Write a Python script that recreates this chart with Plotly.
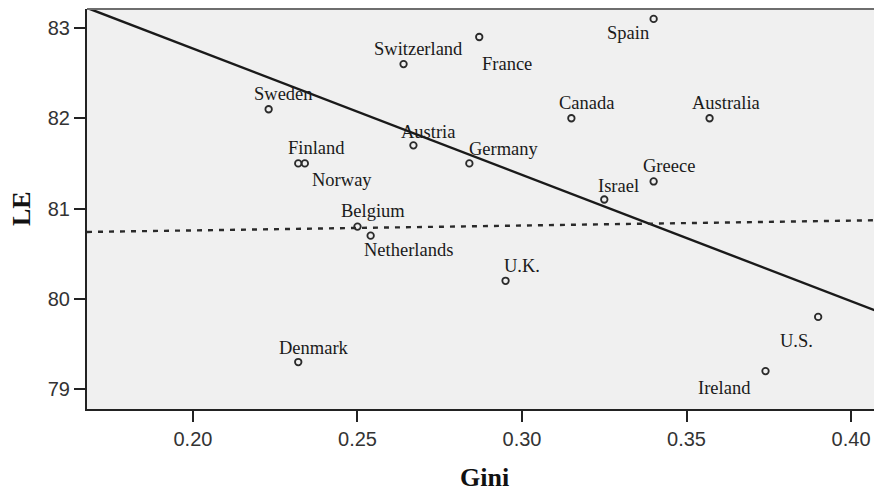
import plotly.graph_objects as go
import numpy as np

countries = ["Sweden", "Finland", "Norway", "Switzerland", "France", "Austria",
             "Germany", "Belgium", "Netherlands", "Canada", "Spain", "Australia",
             "Greece", "Israel", "U.K.", "U.S.", "Ireland", "Denmark"]
gini = [0.223, 0.232, 0.234, 0.264, 0.287, 0.267, 0.284, 0.250, 0.254,
        0.315, 0.340, 0.357, 0.340, 0.325, 0.295, 0.390, 0.374, 0.232]
le = [82.1, 81.5, 81.5, 82.6, 82.9, 81.7, 81.5, 80.8, 80.7,
      82.0, 83.1, 82.0, 81.3, 81.1, 80.2, 79.8, 79.2, 79.3]

# fitted lines (intercept, slope)
fit_solid = (85.57, -13.99)
fit_dashed = (80.65, 0.54)

x_ticks = [0.20, 0.25, 0.30, 0.35, 0.40]
y_ticks = [79, 80, 81, 82, 83]

# label offsets in pixels (style)
label_shift = {
    "Sweden": (15, 15), "Finland": (18, 15), "Norway": (37, -17),
    "Switzerland": (15, 15), "France": (28, -27), "Austria": (15, 13),
    "Germany": (35, 14), "Belgium": (16, 16), "Netherlands": (38, -14),
    "Canada": (15, 15), "Spain": (-26, -14), "Australia": (16, 15),
    "Greece": (15, 15), "Israel": (14, 14), "U.K.": (16, 15),
    "U.S.": (-22, -24), "Ireland": (-41, -17), "Denmark": (16, 14),
}

x_range = [0.1678, 0.4094]
y_range = [78.78, 83.21]

fig = go.Figure()

xs = np.array(x_range)
fig.add_trace(go.Scatter(x=xs, y=fit_solid[0] + fit_solid[1] * xs, mode="lines",
                         line=dict(color="#1a1a1a", width=2.4), hoverinfo="skip"))
fig.add_trace(go.Scatter(x=xs, y=fit_dashed[0] + fit_dashed[1] * xs, mode="lines",
                         line=dict(color="#2a2a2a", width=2.4, dash="5px,6px"),
                         hoverinfo="skip"))
fig.add_trace(go.Scatter(x=gini, y=le, mode="markers", text=countries,
                         marker=dict(symbol="circle-open", size=6.5, color="#2a2a2a",
                                     line=dict(color="#2a2a2a", width=1.8))))

for c, gx, gy in zip(countries, gini, le):
    dx, dy = label_shift[c]
    fig.add_annotation(x=gx, y=gy, text=c, showarrow=False, xshift=dx, yshift=dy,
                       xanchor="center", yanchor="middle",
                       font=dict(family="Liberation Serif", size=18.5, color="#1a1a1a"))

# axis titles
fig.add_annotation(xref="paper", yref="paper", x=0, y=0.5, xshift=-66, text="<b>LE</b>",
                   textangle=-90, showarrow=False, xanchor="center", yanchor="middle",
                   font=dict(family="Liberation Serif", size=26, color="#111111"))
fig.add_annotation(xref="paper", yref="paper", x=0.5, y=0, yshift=-68, text="<b>Gini</b>",
                   showarrow=False, xanchor="center", yanchor="middle",
                   font=dict(family="Liberation Serif", size=26, color="#111111"))

# top border
fig.add_shape(type="line", xref="paper", yref="paper", x0=0, x1=1, y0=1, y1=1,
              line=dict(color="#6e6e6e", width=2))

# the page adds an 8px body margin, so the figure is 8px smaller than the window
fig.update_layout(
    width=874, height=488,
    margin=dict(l=79, r=0, t=1, b=87),
    paper_bgcolor="white", plot_bgcolor="#F0F0F0",
    showlegend=False,
)
axis_common = dict(showline=True, linecolor="#222222", linewidth=2, ticks="outside",
                   ticklen=11, tickwidth=2, tickcolor="#222222", showgrid=False,
                   zeroline=False,
                   tickfont=dict(family="Liberation Sans", size=20, color="#333333"))
fig.update_xaxes(range=x_range, tickvals=x_ticks, tickformat=".2f", **axis_common)
fig.update_yaxes(range=y_range, tickvals=y_ticks, **axis_common)

fig.write_html("out.html")
